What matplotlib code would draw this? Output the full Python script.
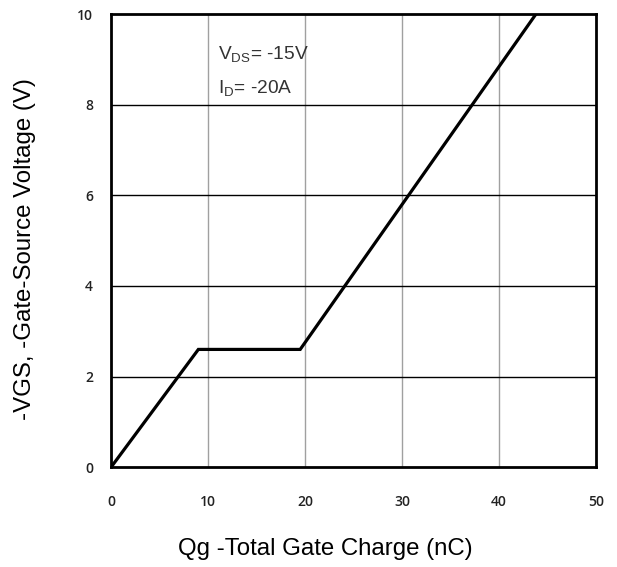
import matplotlib
matplotlib.use("Agg")
import matplotlib.pyplot as plt

plt.rcParams['font.family'] = ['Liberation Sans', 'DejaVu Sans']
plt.rcParams['mathtext.fontset'] = 'custom'
plt.rcParams['mathtext.rm'] = 'Liberation Sans'

# gate charge curve vertices (nC, V)
qg = [0, 9.0, 19.5, 43.8]
vgs = [0, 2.6, 2.6, 10]

xticks = [0, 10, 20, 30, 40, 50]
yticks = [0, 2, 4, 6, 8, 10]

fig = plt.figure(figsize=(6.17, 5.67), dpi=100)
ax = fig.add_axes([0.18, 0.176, 0.786, 0.799])

ax.plot(qg, vgs, color='black', lw=2.3, solid_joinstyle='miter', zorder=3)

ax.set_xlim(0, 50)
ax.set_ylim(0, 10)
ax.set_xticks(xticks)
ax.set_yticks(yticks)
for x in xticks[1:-1]:
    ax.axvline(x, color='#a0a0a0', lw=1.0, zorder=1)
for y in yticks[1:-1]:
    ax.axhline(y, color='black', lw=1.0, zorder=1)

ax.tick_params(length=0, labelsize=10)
ax.tick_params(axis='x', pad=20)
ax.tick_params(axis='y', pad=13)
for lab in ax.get_xticklabels() + ax.get_yticklabels():
    lab.set_family(['Open Sans', 'DejaVu Sans'])
    lab.set_fontweight('semibold')
    lab.set_color('#222222')
for s in ax.spines.values():
    s.set_linewidth(2)
    s.set_color('black')

ax.set_xlabel('Qg -Total Gate Charge (nC)', fontsize=17.3, va='center')
ax.xaxis.set_label_coords(0.441, -0.181)
ax.set_ylabel('-VGS, -Gate-Source Voltage (V)', fontsize=17.3, va='center')
ax.yaxis.set_label_coords(-0.178, 0.482)

ax.text(11.0, 9.0, r'V$_{\mathrm{DS}}$= -15V', fontsize=13.8, color='#333333')
ax.text(11.0, 8.25, r'I$_{\mathrm{D}}$= -20A', fontsize=13.8, color='#333333')

fig.savefig('out.png', dpi=100)
